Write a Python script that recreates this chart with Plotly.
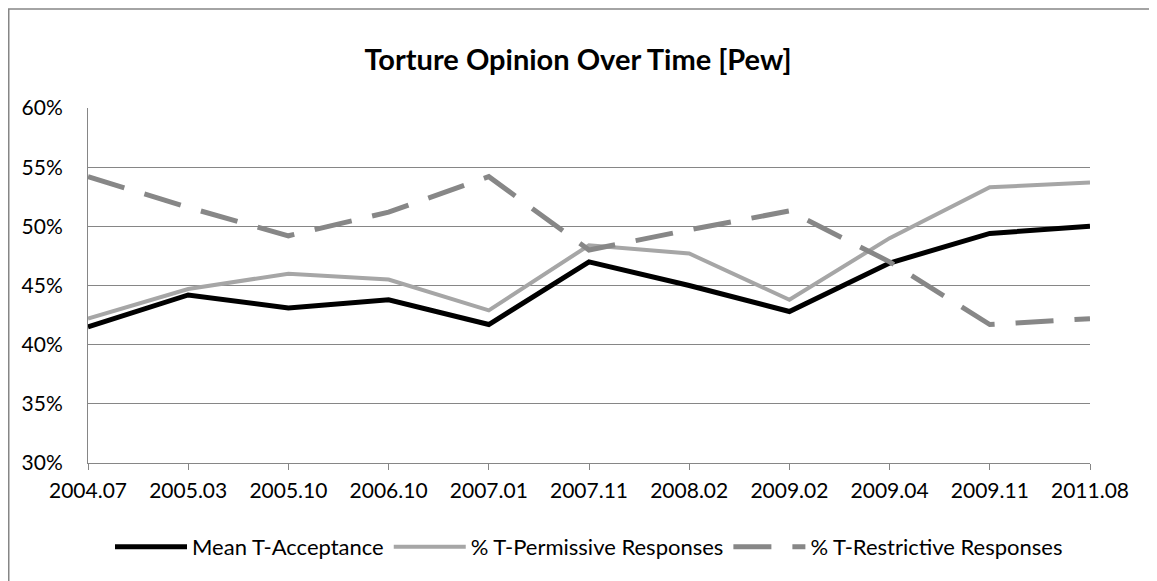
import plotly.graph_objects as go

categories = ["2004.07", "2005.03", "2005.10", "2006.10", "2007.01", "2007.11",
              "2008.02", "2009.02", "2009.04", "2009.11", "2011.08"]
mean_t_acceptance = [0.415, 0.442, 0.431, 0.438, 0.417, 0.470, 0.450, 0.428, 0.469, 0.494, 0.500]
t_permissive = [0.422, 0.447, 0.460, 0.455, 0.429, 0.484, 0.477, 0.438, 0.490, 0.533, 0.537]
t_restrictive = [0.542, 0.516, 0.492, 0.512, 0.542, 0.480, 0.497, 0.513, 0.470, 0.417, 0.422]

W, H = 1157, 581
OX, OY = 8, 8  # page body margin offset
# target page-pixel positions of the plot area, converted to figure pixels
L, R, T, B = 88 - OX, 1090 - OX, 108 - OY, 463 - OY
pw, ph = R - L, B - T
FONT = "Lato"
GRID = "#868686"

fig = go.Figure()
fig.add_trace(go.Scatter(x=categories, y=mean_t_acceptance, mode="lines",
                         name="Mean T-Acceptance",
                         line=dict(color="#000000", width=5)))
fig.add_trace(go.Scatter(x=categories, y=t_permissive, mode="lines",
                         name="% T-Permissive Responses",
                         line=dict(color="#A6A6A6", width=4)))
fig.add_trace(go.Scatter(x=categories, y=t_restrictive, mode="lines",
                         name="% T-Restrictive Responses",
                         line=dict(color="#878787", width=5, dash="38px,21px")))

def fx(px):  # figure-pixel x -> paper
    return (px - L) / pw

def fy(py):  # figure-pixel y -> paper
    return (B - py) / ph

fig.update_layout(
    width=W, height=H,
    margin=dict(l=L, r=W - R, t=T, b=H - B, pad=0),
    paper_bgcolor="white", plot_bgcolor="white",
    font=dict(family=FONT, color="#000000", size=21),
    title=dict(text="<b>Torture Opinion Over Time [Pew]</b>",
               x=(578 - OX) / W, xref="container", xanchor="center",
               y=1 - (60 - OY) / H, yref="container", yanchor="middle",
               font=dict(family=FONT, size=29, color="#000000")),
    showlegend=True,
    legend=dict(orientation="h", x=0.5, xanchor="center",
                y=fy(547 - OY), yanchor="middle", itemwidth=72,
                font=dict(family=FONT, size=22, color="#000000"),
                bgcolor="rgba(0,0,0,0)", traceorder="normal"),
    shapes=[dict(type="rect", xref="paper", yref="paper",
                 x0=fx(0.75), x1=fx(1200), y0=fy(640), y1=fy(9 - OY),
                 line=dict(color=GRID, width=1.5), fillcolor="rgba(0,0,0,0)",
                 layer="below")],
)
fig.update_xaxes(type="category", range=[0, len(categories) - 1],
                 showgrid=False, showline=True, linecolor=GRID, linewidth=1,
                 ticks="outside", ticklen=6, tickcolor=GRID, tickwidth=1,
                 ticklabelstandoff=3,
                 tickfont=dict(family=FONT, size=21, color="#000000"),
                 zeroline=False)
fig.update_yaxes(range=[0.30, 0.60], dtick=0.05, tickformat=".0%",
                 showgrid=True, gridcolor=GRID, gridwidth=1,
                 showline=True, linecolor=GRID, linewidth=1,
                 ticks="", ticklabelstandoff=20,
                 tickfont=dict(family=FONT, size=21, color="#000000"),
                 zeroline=False)

fig.write_html("out.html")
